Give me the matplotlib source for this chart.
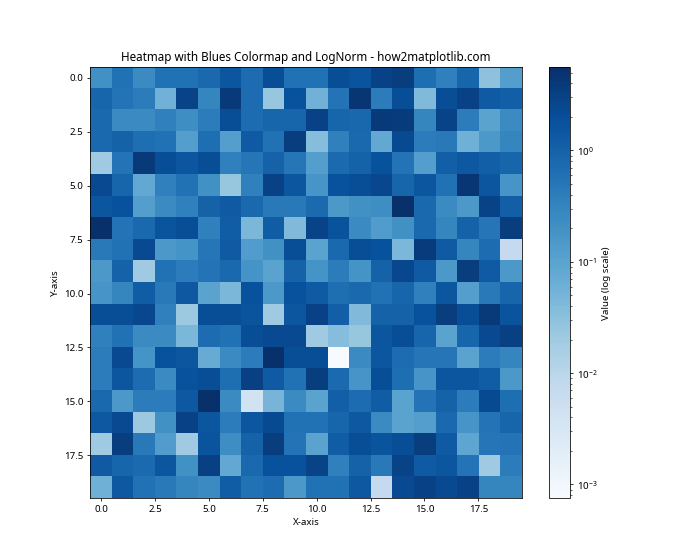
import numpy as np
import matplotlib
matplotlib.use("Agg")
import matplotlib.pyplot as plt
from matplotlib.colors import LogNorm

plt.rcParams['font.family'] = ['Noto Sans', 'DejaVu Sans']

# Valeurs (20 x 20)
rows_0_9 = [
    [0.2, 0.6, 0.25, 0.6, 0.6, 0.8, 1.5, 0.7, 2.0, 0.6, 0.6, 2.0, 1.6, 3.0, 3.5, 0.65, 0.35, 0.9, 0.03, 0.12],
    [0.9, 0.55, 0.4, 0.055, 2.8, 0.3, 4.0, 0.7, 0.025, 1.8, 0.055, 0.55, 4.5, 0.4, 2.0, 0.04, 2.0, 3.0, 1.3, 1.1],
    [0.8, 0.25, 0.25, 0.35, 0.22, 0.4, 2.0, 0.7, 0.9, 0.9, 3.0, 0.9, 0.85, 4.0, 3.8, 0.3, 2.8, 0.4, 0.1, 0.25],
    [0.8, 1.0, 0.65, 0.6, 0.12, 0.65, 0.12, 1.3, 0.6, 3.5, 0.035, 0.35, 0.8, 0.08, 2.2, 0.4, 0.45, 0.06, 0.15, 0.3],
    [0.02, 0.55, 4.0, 2.0, 1.5, 2.0, 0.35, 0.5, 1.0, 0.5, 0.12, 0.75, 1.0, 1.8, 0.55, 0.12, 1.1, 1.4, 1.1, 0.9],
    [2.3, 0.9, 0.08, 0.35, 0.6, 0.2, 0.025, 0.35, 3.0, 1.5, 0.17, 1.8, 2.0, 2.5, 0.9, 1.5, 0.6, 4.5, 1.5, 0.17],
    [1.5, 1.8, 0.12, 0.25, 0.35, 1.0, 1.3, 0.8, 0.45, 0.45, 0.75, 0.15, 0.2, 0.22, 5.5, 0.8, 0.25, 0.15, 2.8, 1.1],
    [5.5, 0.55, 0.8, 1.6, 2.0, 0.35, 1.2, 0.045, 1.2, 0.04, 2.8, 1.7, 0.25, 0.13, 0.2, 0.8, 0.3, 1.0, 0.5, 3.5],
    [0.45, 0.6, 2.3, 0.15, 0.18, 0.5, 1.3, 0.13, 0.2, 2.0, 0.1, 0.8, 2.0, 1.8, 0.045, 3.8, 1.3, 0.3, 0.7, 0.007],
    [0.15, 1.0, 0.02, 0.6, 0.4, 0.55, 0.8, 0.18, 0.1, 1.0, 0.18, 0.4, 0.18, 1.0, 2.5, 1.3, 0.15, 3.5, 1.3, 0.15],
]
rows_10_19 = [
    [0.17, 0.3, 1.2, 0.45, 1.4, 0.1, 0.045, 1.8, 0.15, 1.8, 1.3, 0.65, 0.8, 0.6, 0.9, 0.35, 1.5, 0.12, 0.45, 0.9],
    [2.0, 2.0, 2.5, 0.35, 0.022, 2.0, 2.0, 1.6, 0.02, 1.5, 3.0, 1.1, 0.04, 1.0, 1.0, 1.8, 3.5, 2.0, 4.0, 1.6],
    [0.35, 0.6, 0.25, 0.25, 0.045, 0.7, 0.6, 2.0, 2.3, 2.3, 0.02, 0.035, 0.025, 1.5, 2.0, 0.9, 0.1, 0.9, 2.3, 3.2],
    [0.4, 2.3, 0.18, 1.8, 1.5, 0.07, 0.25, 0.4, 5.5, 2.0, 2.0, 0.00075, 0.25, 1.5, 0.7, 0.5, 0.5, 0.1, 0.4, 0.3],
    [0.4, 1.5, 0.7, 0.25, 1.8, 2.0, 0.65, 3.2, 1.3, 0.6, 3.5, 0.75, 0.17, 2.0, 0.65, 0.17, 1.5, 1.5, 1.2, 0.15],
    [0.8, 0.15, 0.4, 0.4, 1.4, 5.5, 0.25, 0.004, 0.05, 0.25, 0.1, 1.1, 0.7, 1.2, 0.1, 0.55, 1.0, 0.4, 2.2, 0.65],
    [1.4, 2.3, 0.022, 0.2, 3.0, 1.5, 0.4, 1.5, 2.2, 0.6, 0.6, 0.9, 1.4, 0.25, 0.1, 0.12, 0.8, 0.17, 0.55, 0.9],
    [0.02, 3.5, 0.45, 0.13, 0.02, 1.6, 0.22, 1.0, 3.5, 0.55, 0.1, 1.2, 2.0, 1.6, 2.0, 3.5, 1.3, 0.09, 0.5, 0.55],
    [1.3, 0.9, 0.75, 1.5, 0.2, 3.2, 0.08, 0.8, 1.8, 1.8, 2.8, 0.35, 1.0, 0.45, 2.8, 1.3, 1.5, 0.55, 0.02, 0.4],
    [0.06, 1.4, 0.6, 0.45, 0.3, 0.25, 1.2, 0.6, 0.7, 0.15, 0.6, 0.6, 1.4, 0.007, 2.3, 3.0, 2.3, 3.0, 0.3, 0.3],
]
data = np.array(rows_0_9 + rows_10_19)

fig = plt.figure(figsize=(10, 8), dpi=70)
im = plt.imshow(data, cmap='Blues', norm=LogNorm(vmin=data.min(), vmax=5.6))
plt.colorbar(im, label='Value (log scale)')
plt.title('Heatmap with Blues Colormap and LogNorm - how2matplotlib.com')
plt.xlabel('X-axis')
plt.ylabel('Y-axis')
plt.savefig('out.png')
